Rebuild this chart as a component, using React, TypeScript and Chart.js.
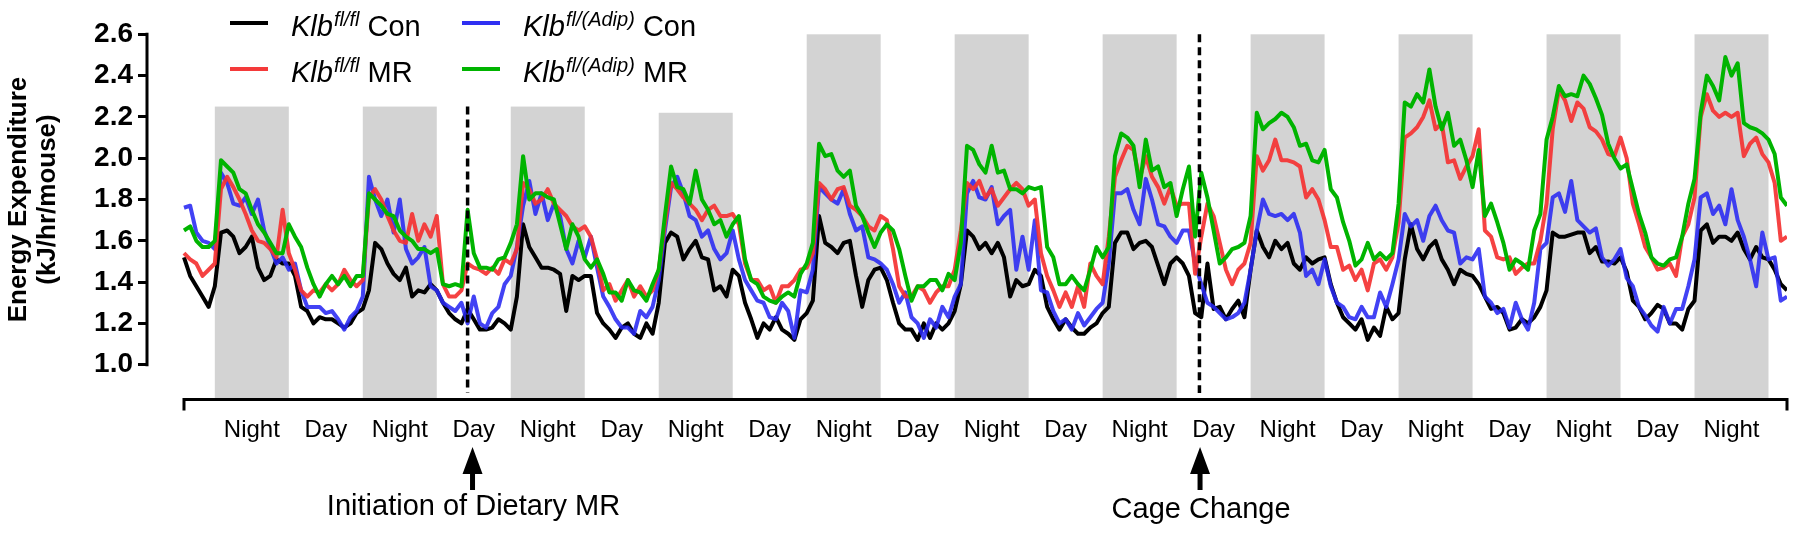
import React, { useEffect, useRef } from 'react';
import { Chart, registerables } from 'chart.js';

Chart.register(...registerables);

// ---------- data (hourly samples, hour 0 .. 260) ----------
// Klb fl/fl Con (black)
const kfCon: number[] = [
  1.52, 1.43, 1.38, 1.33, 1.28, 1.38, 1.64, 1.65, 1.62, 1.54,
  1.57, 1.62, 1.47, 1.41, 1.43, 1.51, 1.49, 1.49, 1.43, 1.28,
  1.26, 1.20, 1.23, 1.22, 1.22, 1.20, 1.18, 1.20, 1.25, 1.27,
  1.36, 1.59, 1.56, 1.49, 1.44, 1.41, 1.47, 1.33, 1.36, 1.35,
  1.39, 1.36, 1.30, 1.25, 1.22, 1.20, 1.27, 1.22, 1.17,
  1.17, 1.18, 1.22, 1.20, 1.17, 1.33, 1.68, 1.57, 1.52, 1.47,
  1.47, 1.46, 1.44, 1.26, 1.43, 1.41, 1.43, 1.43, 1.25, 1.20,
  1.17, 1.13, 1.18, 1.20, 1.15, 1.13, 1.20, 1.15, 1.30, 1.59,
  1.64, 1.62, 1.51, 1.56, 1.60, 1.52, 1.51, 1.36, 1.38, 1.33,
  1.46, 1.43, 1.30, 1.22, 1.13, 1.20, 1.17, 1.23,
  1.17, 1.15, 1.12, 1.22, 1.25, 1.31, 1.72, 1.59, 1.57, 1.54,
  1.59, 1.60, 1.43, 1.28, 1.41, 1.46, 1.47, 1.41, 1.30, 1.20,
  1.17, 1.17, 1.12, 1.20, 1.13, 1.20, 1.17, 1.20, 1.26, 1.39,
  1.65, 1.62, 1.56, 1.59, 1.54, 1.59, 1.52, 1.33, 1.41, 1.38,
  1.39, 1.46, 1.43, 1.28, 1.22, 1.17, 1.22, 1.18,
  1.15, 1.15, 1.18, 1.20, 1.25, 1.28, 1.59, 1.64, 1.64, 1.56,
  1.59, 1.60, 1.57, 1.48, 1.39, 1.49, 1.52, 1.49, 1.43, 1.25,
  1.23, 1.49, 1.27, 1.28, 1.22, 1.27, 1.31, 1.23, 1.46, 1.65,
  1.57, 1.52, 1.60, 1.56, 1.59, 1.49, 1.46, 1.52, 1.49, 1.51,
  1.52, 1.39, 1.30, 1.23, 1.20, 1.17, 1.22, 1.12,
  1.18, 1.14, 1.28, 1.22, 1.25, 1.51, 1.68, 1.56, 1.51, 1.57,
  1.60, 1.51, 1.46, 1.39, 1.46, 1.44, 1.43, 1.39, 1.33, 1.27,
  1.28, 1.25, 1.17, 1.18, 1.22, 1.20, 1.23, 1.28, 1.36, 1.64,
  1.62, 1.62, 1.63, 1.64, 1.64, 1.54, 1.57, 1.50, 1.50, 1.49,
  1.52, 1.45, 1.31, 1.28, 1.22, 1.25, 1.29, 1.27,
  1.20, 1.20, 1.17, 1.27, 1.31, 1.65, 1.68, 1.59, 1.62, 1.62,
  1.60, 1.64, 1.56, 1.51, 1.57, 1.52, 1.51, 1.46, 1.39, 1.36,
];

// Klb fl/fl MR (red)
const kfMR: number[] = [
  1.54, 1.51, 1.49, 1.43, 1.46, 1.49, 1.85, 1.91, 1.86, 1.80,
  1.73, 1.65, 1.60, 1.59, 1.56, 1.52, 1.75, 1.54, 1.46, 1.36,
  1.33, 1.36, 1.35, 1.39, 1.36, 1.39, 1.46, 1.41, 1.38, 1.41,
  1.81, 1.85, 1.80, 1.72, 1.65, 1.60, 1.59, 1.73, 1.60, 1.68,
  1.62, 1.72, 1.39, 1.33, 1.33, 1.36, 1.49, 1.47, 1.46,
  1.44, 1.47, 1.44, 1.51, 1.49, 1.56, 1.88, 1.85, 1.78, 1.80,
  1.85, 1.78, 1.75, 1.72, 1.67, 1.65, 1.67, 1.62, 1.51, 1.36,
  1.39, 1.31, 1.36, 1.41, 1.33, 1.38, 1.33, 1.36, 1.46, 1.68,
  1.88, 1.85, 1.81, 1.78, 1.75, 1.70, 1.75, 1.77, 1.72, 1.72,
  1.73, 1.68, 1.49, 1.41, 1.41, 1.36, 1.38, 1.30,
  1.38, 1.38, 1.41, 1.46, 1.47, 1.54, 1.88, 1.85, 1.80, 1.85,
  1.86, 1.77, 1.75, 1.72, 1.67, 1.65, 1.72, 1.70, 1.56, 1.38,
  1.33, 1.33, 1.38, 1.36, 1.30, 1.35, 1.38, 1.38, 1.46, 1.65,
  1.88, 1.85, 1.89, 1.81, 1.85, 1.77, 1.81, 1.85, 1.88, 1.85,
  1.77, 1.80, 1.54, 1.43, 1.36, 1.28, 1.35, 1.28,
  1.38, 1.28, 1.49, 1.43, 1.39, 1.62, 1.91, 1.99, 2.06, 2.04,
  1.90, 2.01, 1.91, 1.86, 1.78, 1.86, 1.77, 1.78, 1.78, 1.44,
  1.62, 1.78, 1.72, 1.59, 1.46, 1.39, 1.46, 1.49, 1.59, 2.01,
  1.94, 1.99, 2.09, 1.99, 1.99, 1.98, 1.96, 1.81, 1.85, 1.80,
  1.70, 1.57, 1.57, 1.46, 1.48, 1.41, 1.46, 1.36,
  1.49, 1.51, 1.46, 1.52, 1.69, 2.10, 2.12, 2.15, 2.20, 2.28,
  2.14, 2.17, 1.98, 1.99, 1.90, 1.96, 2.01, 2.14, 1.65, 1.62,
  1.52, 1.51, 1.52, 1.44, 1.47, 1.49, 1.49, 1.60, 1.78, 2.14,
  2.33, 2.28, 2.18, 2.27, 2.24, 2.15, 2.13, 2.09, 2.02, 2.01,
  2.10, 2.00, 1.78, 1.68, 1.57, 1.52, 1.46, 1.47,
  1.49, 1.43, 1.62, 1.68, 1.81, 2.20, 2.31, 2.23, 2.20, 2.22,
  2.20, 2.22, 2.01, 2.07, 2.10, 2.02, 1.98, 1.88, 1.60, 1.62,
];

// Klb fl/(Adip) Con (blue)
const kaCon: number[] = [
  1.76, 1.77, 1.64, 1.60, 1.59, 1.56, 1.93, 1.88, 1.78, 1.77,
  1.81, 1.73, 1.80, 1.65, 1.57, 1.49, 1.52, 1.46, 1.49, 1.36,
  1.28, 1.28, 1.28, 1.25, 1.26, 1.22, 1.17, 1.23, 1.26, 1.33,
  1.91, 1.80, 1.72, 1.80, 1.64, 1.80, 1.56, 1.49, 1.52, 1.57,
  1.38, 1.36, 1.30, 1.28, 1.26, 1.30, 1.20, 1.33, 1.20,
  1.18, 1.25, 1.28, 1.39, 1.43, 1.57, 1.77, 1.89, 1.73, 1.83,
  1.70, 1.78, 1.72, 1.56, 1.49, 1.60, 1.52, 1.62, 1.47, 1.33,
  1.28, 1.22, 1.18, 1.18, 1.15, 1.26, 1.23, 1.28, 1.41, 1.65,
  1.86, 1.91, 1.83, 1.72, 1.70, 1.62, 1.65, 1.56, 1.51, 1.54,
  1.65, 1.51, 1.41, 1.36, 1.31, 1.30, 1.23, 1.22,
  1.30, 1.26, 1.13, 1.36, 1.35, 1.46, 1.86, 1.83, 1.80, 1.78,
  1.85, 1.73, 1.65, 1.67, 1.52, 1.51, 1.49, 1.46, 1.39, 1.30,
  1.35, 1.23, 1.20, 1.13, 1.22, 1.18, 1.28, 1.23, 1.33, 1.39,
  1.83, 1.89, 1.81, 1.80, 1.86, 1.68, 1.72, 1.75, 1.46, 1.62,
  1.46, 1.70, 1.36, 1.35, 1.26, 1.20, 1.22, 1.17,
  1.25, 1.19, 1.23, 1.27, 1.30, 1.49, 1.83, 1.83, 1.85, 1.75,
  1.68, 1.90, 1.80, 1.68, 1.67, 1.62, 1.59, 1.65, 1.65, 1.49,
  1.39, 1.30, 1.28, 1.25, 1.22, 1.23, 1.25, 1.30, 1.46, 1.65,
  1.80, 1.73, 1.72, 1.73, 1.70, 1.73, 1.64, 1.43, 1.46, 1.39,
  1.51, 1.38, 1.30, 1.28, 1.23, 1.22, 1.28, 1.23,
  1.23, 1.35, 1.28, 1.39, 1.51, 1.73, 1.67, 1.70, 1.60, 1.72,
  1.77, 1.70, 1.65, 1.64, 1.49, 1.52, 1.51, 1.56, 1.33, 1.30,
  1.25, 1.27, 1.18, 1.30, 1.22, 1.17, 1.30, 1.56, 1.59, 1.81,
  1.83, 1.74, 1.89, 1.70, 1.67, 1.64, 1.66, 1.52, 1.48, 1.51,
  1.56, 1.42, 1.38, 1.28, 1.24, 1.19, 1.16, 1.28,
  1.20, 1.27, 1.27, 1.38, 1.51, 1.81, 1.83, 1.73, 1.77, 1.68,
  1.85, 1.70, 1.62, 1.51, 1.38, 1.64, 1.51, 1.52, 1.31, 1.33,
];

// Klb fl/(Adip) MR (green)
const kaMR: number[] = [
  1.65, 1.67, 1.60, 1.57, 1.57, 1.60, 1.99, 1.96, 1.93, 1.85,
  1.83, 1.75, 1.68, 1.64, 1.59, 1.54, 1.54, 1.68, 1.62, 1.57,
  1.47, 1.39, 1.33, 1.39, 1.43, 1.39, 1.43, 1.38, 1.43, 1.43,
  1.83, 1.80, 1.77, 1.73, 1.72, 1.65, 1.62, 1.60, 1.56, 1.56,
  1.54, 1.56, 1.39, 1.38, 1.39, 1.38, 1.75, 1.54, 1.47,
  1.47, 1.46, 1.51, 1.52, 1.59, 1.68, 2.01, 1.80, 1.83, 1.83,
  1.81, 1.80, 1.68, 1.56, 1.68, 1.62, 1.51, 1.47, 1.51, 1.44,
  1.35, 1.35, 1.31, 1.41, 1.36, 1.35, 1.31, 1.39, 1.46, 1.72,
  1.96, 1.86, 1.85, 1.78, 1.94, 1.80, 1.75, 1.68, 1.70, 1.62,
  1.68, 1.72, 1.51, 1.41, 1.39, 1.33, 1.31, 1.30,
  1.33, 1.35, 1.33, 1.44, 1.49, 1.59, 2.07, 2.01, 2.02, 1.94,
  1.91, 1.94, 1.77, 1.72, 1.64, 1.57, 1.64, 1.68, 1.65, 1.56,
  1.43, 1.31, 1.38, 1.38, 1.41, 1.41, 1.36, 1.44, 1.41, 1.59,
  2.06, 2.04, 1.97, 1.93, 2.06, 1.93, 1.94, 1.85, 1.85, 1.83,
  1.86, 1.85, 1.86, 1.57, 1.52, 1.39, 1.39, 1.43,
  1.39, 1.36, 1.46, 1.57, 1.52, 1.57, 2.01, 2.12, 2.10, 2.06,
  1.86, 2.09, 1.94, 1.96, 1.86, 1.88, 1.72, 1.85, 1.96, 1.62,
  1.93, 1.81, 1.65, 1.49, 1.52, 1.56, 1.57, 1.59, 1.72, 2.22,
  2.14, 2.17, 2.19, 2.22, 2.20, 2.15, 2.06, 2.07, 1.99, 1.98,
  2.04, 1.85, 1.81, 1.69, 1.60, 1.48, 1.51, 1.59,
  1.51, 1.54, 1.51, 1.54, 1.78, 2.27, 2.25, 2.31, 2.27, 2.43,
  2.25, 2.14, 2.22, 2.06, 2.09, 1.99, 1.86, 2.04, 1.72, 1.78,
  1.69, 1.59, 1.46, 1.51, 1.49, 1.46, 1.65, 1.73, 2.09, 2.20,
  2.35, 2.30, 2.31, 2.30, 2.40, 2.36, 2.29, 2.21, 2.07, 2.00,
  1.95, 1.97, 1.85, 1.73, 1.64, 1.52, 1.49, 1.48,
  1.51, 1.52, 1.62, 1.78, 1.90, 2.22, 2.40, 2.35, 2.28, 2.49,
  2.40, 2.46, 2.17, 2.15, 2.14, 2.12, 2.09, 2.02, 1.81, 1.77,
];

// x axis (hours) category labels
const xTickHours: number[] = [11, 23, 35, 47, 59, 71, 83, 95, 107, 119, 131, 143, 155, 167, 179, 191, 203, 215, 227, 239, 251];
const xTickLabels: string[] = [
  'Night', 'Day', 'Night', 'Day', 'Night', 'Day', 'Night', 'Day', 'Night', 'Day', 'Night',
  'Day', 'Night', 'Day', 'Night', 'Day', 'Night', 'Day', 'Night', 'Day', 'Night',
];
const yTicks: number[] = [1.0, 1.2, 1.4, 1.6, 1.8, 2.0, 2.2, 2.4, 2.6];

// dark phase shading
const nightStarts: number[] = [5, 29, 53, 77, 101, 125, 149, 173, 197, 221, 245];
const nightEnds: number[] = [17, 41, 65, 89, 113, 137, 161, 185, 209, 233, 257];
const nightTops: number[] = [2.25, 2.25, 2.25, 2.22, 2.6, 2.6, 2.6, 2.6, 2.6, 2.6, 2.6];

// events
const eventHours: number[] = [46, 164.7];
const eventTops: number[] = [2.25, 2.6];
const eventArrowHours: number[] = [46.8, 164.8];
const eventLabels: string[] = ['Initiation of Dietary MR', 'Cage Change'];

const HOURS_START = 0;
const HOURS_END = 260;

const legendItems = [
  { color: '#000000', sup: 'fl/fl', tail: ' Con' },
  { color: '#F43A3A', sup: 'fl/fl', tail: ' MR' },
  { color: '#2F2FF2', sup: 'fl/(Adip)', tail: ' Con' },
  { color: '#00B400', sup: 'fl/(Adip)', tail: ' MR' },
];

const FONT = '"Liberation Sans", Arial, Helvetica, sans-serif';

const toPoints = (arr: number[]) => arr.map((v, i) => ({ x: HOURS_START + i, y: v }));

const overlayPlugin = {
  id: 'overlay',
  beforeDatasetsDraw(chart: any) {
    const { ctx, chartArea, scales } = chart;
    const x = scales.x;
    const y = scales.y;
    ctx.save();
    ctx.fillStyle = '#D3D3D3';
    nightStarts.forEach((s, i) => {
      const x0 = x.getPixelForValue(s);
      const x1 = x.getPixelForValue(nightEnds[i]);
      const yt = y.getPixelForValue(nightTops[i]);
      ctx.fillRect(x0, yt, x1 - x0, chartArea.bottom - yt);
    });
    ctx.restore();
  },
  afterDatasetsDraw(chart: any) {
    const { ctx, scales } = chart;
    const x = scales.x;
    const y = scales.y;
    ctx.save();
    ctx.strokeStyle = '#000';
    ctx.lineWidth = 3.5;
    ctx.setLineDash([8, 5]);
    eventHours.forEach((h, i) => {
      const px = x.getPixelForValue(h);
      ctx.beginPath();
      ctx.moveTo(px, y.getPixelForValue(eventTops[i]));
      ctx.lineTo(px, 393);
      ctx.stroke();
    });
    ctx.restore();
  },
  afterDraw(chart: any) {
    const { ctx, chartArea, scales } = chart;
    const x = scales.x;
    const y = scales.y;
    ctx.save();
    ctx.strokeStyle = '#000';
    ctx.fillStyle = '#000';
    ctx.lineWidth = 3;
    ctx.lineCap = 'butt';
    // y axis line
    const yTop = y.getPixelForValue(yTicks[yTicks.length - 1]);
    const yBot = y.getPixelForValue(yTicks[0]);
    ctx.beginPath();
    ctx.moveTo(chartArea.left, yTop - 1.5);
    ctx.lineTo(chartArea.left, yBot + 1.5);
    ctx.stroke();
    // x axis line with end ticks
    const xl = x.getPixelForValue(HOURS_START);
    const xr = x.getPixelForValue(HOURS_END);
    const yb = chartArea.bottom + 0.5;
    ctx.beginPath();
    ctx.moveTo(xl, yb + 11);
    ctx.lineTo(xl, yb);
    ctx.lineTo(xr, yb);
    ctx.lineTo(xr, yb + 11);
    ctx.stroke();

    // arrows + annotation text
    eventArrowHours.forEach((h, i) => {
      const px = x.getPixelForValue(h);
      ctx.beginPath();
      ctx.moveTo(px, 447);
      ctx.lineTo(px + 10, 474);
      ctx.lineTo(px + 2.5, 474);
      ctx.lineTo(px + 2.5, 490);
      ctx.lineTo(px - 2.5, 490);
      ctx.lineTo(px - 2.5, 474);
      ctx.lineTo(px - 10, 474);
      ctx.closePath();
      ctx.fill();
      ctx.font = `29px ${FONT}`;
      ctx.textAlign = 'center';
      ctx.textBaseline = 'alphabetic';
      ctx.fillText(eventLabels[i], px + 1, i === 0 ? 515 : 518);
    });

    // y axis title
    const cy = (yTop + yBot) / 2;
    ctx.font = `bold 26px ${FONT}`;
    ctx.textAlign = 'center';
    ctx.textBaseline = 'alphabetic';
    ctx.save();
    ctx.translate(26, cy);
    ctx.rotate(-Math.PI / 2);
    ctx.fillText('Energy Expenditure', 0, 0);
    ctx.restore();
    ctx.save();
    ctx.translate(55, cy);
    ctx.rotate(-Math.PI / 2);
    ctx.fillText('(kJ/hr/mouse)', 0, 0);
    ctx.restore();

    // legend
    const cols = [230, 462];
    const rows = [23, 69];
    legendItems.forEach((it, i) => {
      const cx = cols[Math.floor(i / 2)];
      const ry = rows[i % 2];
      ctx.strokeStyle = it.color;
      ctx.lineWidth = 4;
      ctx.beginPath();
      ctx.moveTo(cx, ry);
      ctx.lineTo(cx + 38, ry);
      ctx.stroke();
      let tx = cx + 61;
      const base = ry + 13;
      ctx.fillStyle = '#000';
      ctx.textAlign = 'left';
      ctx.font = `italic 29px ${FONT}`;
      ctx.fillText('Klb', tx, base);
      tx += ctx.measureText('Klb').width + 1;
      ctx.font = `italic 20px ${FONT}`;
      ctx.fillText(it.sup, tx, base - 10);
      tx += ctx.measureText(it.sup).width;
      ctx.font = `29px ${FONT}`;
      ctx.fillText(it.tail, tx, base);
    });
    ctx.restore();
  },
};

export default function App() {
  const ref = useRef<HTMLCanvasElement | null>(null);

  useEffect(() => {
    if (!ref.current) return;
    const chart = new Chart(ref.current, {
      type: 'line',
      data: {
        datasets: [
          { label: 'Klb fl/(Adip) MR', data: toPoints(kaMR), borderColor: '#00B400', borderWidth: 4, pointRadius: 0, order: 1 },
          { label: 'Klb fl/fl MR', data: toPoints(kfMR), borderColor: 'rgba(244,50,50,0.92)', borderWidth: 4, pointRadius: 0, order: 2 },
          { label: 'Klb fl/(Adip) Con', data: toPoints(kaCon), borderColor: 'rgba(40,40,242,0.88)', borderWidth: 4, pointRadius: 0, order: 3 },
          { label: 'Klb fl/fl Con', data: toPoints(kfCon), borderColor: '#000000', borderWidth: 4, pointRadius: 0, order: 4 },
        ],
      },
      options: {
        animation: false,
        responsive: false,
        devicePixelRatio: 1,
        layout: { padding: { top: 34.3, right: 13, bottom: 0, left: 0 } },
        plugins: { legend: { display: false }, tooltip: { enabled: false }, title: { display: false } },
        elements: { line: { tension: 0, borderJoinStyle: 'round' } },
        scales: {
          x: {
            type: 'linear',
            min: -6,
            max: HOURS_END,
            grid: { display: false },
            border: { display: false },
            afterBuildTicks: (s: any) => {
              s.ticks = xTickHours.map((v) => ({ value: v }));
            },
            afterFit: (s: any) => {
              s.height = 140;
            },
            ticks: {
              autoSkip: false,
              maxRotation: 0,
              minRotation: 0,
              padding: 9,
              color: '#000',
              font: { family: FONT, size: 24 },
              callback: (v: any) => {
                const idx = xTickHours.indexOf(Number(v));
                return idx >= 0 ? xTickLabels[idx] : '';
              },
            },
          },
          y: {
            type: 'linear',
            min: 0.834,
            max: 2.6,
            border: { display: false },
            grid: {
              drawOnChartArea: false,
              drawTicks: true,
              tickLength: 9,
              tickWidth: 3,
              tickColor: '#000',
              color: '#000',
              lineWidth: 3,
            },
            afterBuildTicks: (s: any) => {
              s.ticks = yTicks.map((v) => ({ value: v }));
            },
            afterFit: (s: any) => {
              s.width = 147;
            },
            ticks: {
              padding: 5,
              color: '#000',
              font: { family: FONT, size: 28, weight: 'bold' },
              callback: (v: any) => Number(v).toFixed(1),
            },
          },
        },
      } as any,
      plugins: [overlayPlugin],
    });
    return () => chart.destroy();
  }, []);

  return (
    <div style={{ position: 'fixed', left: 0, top: 0, width: 1800, height: 539, background: '#fff' }}>
      <canvas ref={ref} width={1800} height={539} style={{ display: 'block', width: 1800, height: 539 }} />
    </div>
  );
}
